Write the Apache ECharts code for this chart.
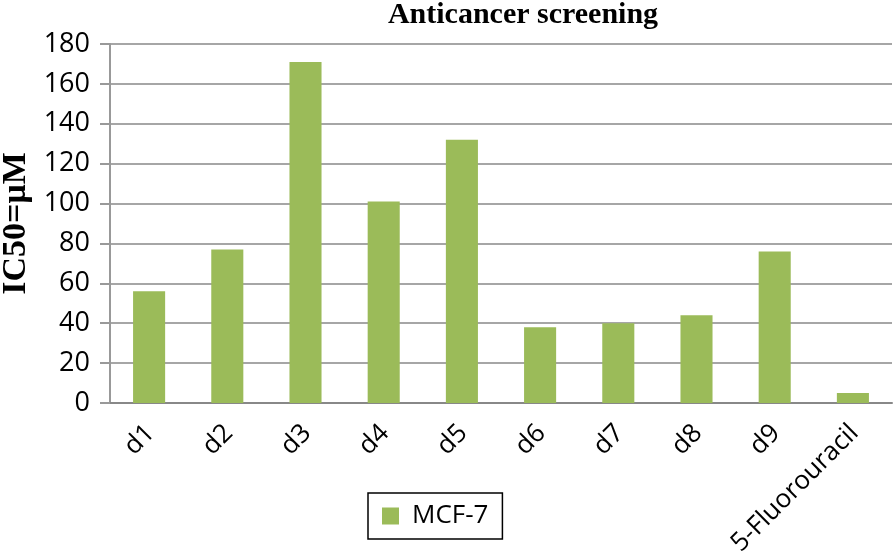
<!DOCTYPE html>
<html>
<head>
<meta charset="utf-8">
<script src="https://cdn.jsdelivr.net/npm/echarts@6/dist/echarts.min.js"></script>
<style>
  html, body { margin: 0; padding: 0; background: #fff; }
  #chart { width: 895px; height: 553px; }
</style>
</head>
<body>
<div id="chart"></div>
<script>
var categories = ['d1', 'd2', 'd3', 'd4', 'd5', 'd6', 'd7', 'd8', 'd9', '5-Fluorouracil'];
var mcf7 = [56, 77, 171, 101, 132, 38, 40, 44, 76, 5];
var yTicks = [0, 180, 20];

var chart = echarts.init(document.getElementById('chart'));

var option = {
    title: {
        text: 'Anticancer screening',
        left: 518,
        textAlign: 'center',
        top: -5,
        textStyle: {
            fontFamily: 'Liberation Serif',
            fontWeight: 'bold',
            fontSize: 30,
            color: '#000'
        }
    },
    legend: {
        data: ['MCF-7'],
        left: 368,
        top: 493,
        orient: 'horizontal',
        itemWidth: 17,
        itemHeight: 17,
        padding: [10, 14, 10, 14],
        borderColor: '#000',
        borderWidth: 1.5,
        icon: 'rect',
        textStyle: {
            fontFamily: 'Open Sans',
            fontSize: 26,
            color: '#000',
            padding: [0, 0, 0, 8]
        }
    },
    grid: {
        left: 110,
        right: 3,
        top: 44,
        bottom: 150,
        outerBoundsMode: 'none',
        containLabel: false
    },
    xAxis: {
        type: 'category',
        data: categories,
        axisLine: { lineStyle: { color: '#888', width: 2 } },
        axisTick: { show: false },
        axisLabel: {
            rotate: 45,
            fontFamily: 'Open Sans',
            fontSize: 26,
            color: '#000',
            margin: 16,
            verticalAlign: 'top',
            lineHeight: 16,
            padding: [0, 6, 0, 0],
            interval: 0
        }
    },
    yAxis: {
        type: 'value',
        min: yTicks[0],
        max: yTicks[1],
        interval: yTicks[2],
        name: 'IC50=μM',
        nameLocation: 'middle',
        nameGap: 76,
        nameTextStyle: {
            fontFamily: 'Liberation Serif',
            fontWeight: 'bold',
            fontSize: 34,
            color: '#000'
        },
        axisLine: { show: true, lineStyle: { color: '#999', width: 2 } },
        axisTick: { show: true, length: 10, lineStyle: { color: '#999', width: 2 } },
        splitLine: { lineStyle: { color: '#a6a6a6', width: 2 } },
        axisLabel: {
            fontFamily: 'Open Sans',
            fontSize: 27,
            color: '#000',
            margin: 20
        }
    },
    series: [{
        name: 'MCF-7',
        type: 'bar',
        data: mcf7,
        barWidth: '41%',
        itemStyle: { color: '#9bbb59' }
    }]
};

chart.setOption(option);
</script>
</body>
</html>
